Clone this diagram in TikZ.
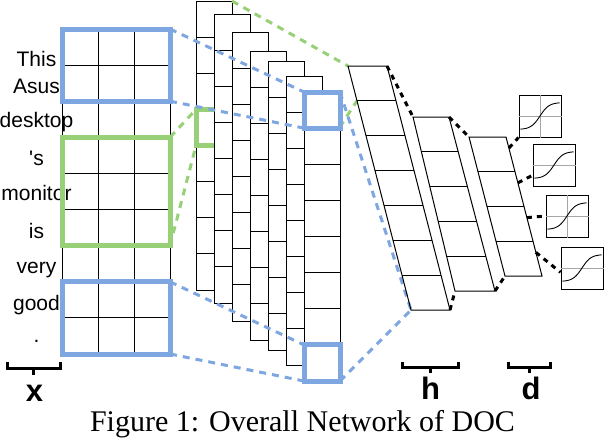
\documentclass[tikz,border=0pt]{standalone}
\usepackage{fontspec}
\setmainfont{Liberation Serif}
\newfontfamily\lsans{Liberation Sans}
\usetikzlibrary{calc}
\definecolor{cblue}{HTML}{7EA6E0}
\definecolor{cgreen}{HTML}{97D077}
\newcommand\fmcolumn[2]{%
  \draw[cell] ({196+18*#1},#2) rectangle ++(36,289);
  \foreach \j in {1,...,7} \draw[thinline] ({196+18*#1},{#2+36.125*\j}) -- ++(36,0);
}
\begin{document}
\begin{tikzpicture}[x=1pt,y=-1pt,
  thinline/.style={line width=1pt},
  cell/.style={draw, fill=white, line width=1pt},
  bluebox/.style={draw=cblue, line width=5pt},
  greenbox/.style={draw=cgreen, line width=5pt},
  bluedash/.style={draw=cblue, line width=3pt, dash pattern=on 7pt off 6pt},
  greendash/.style={draw=cgreen, line width=3pt, dash pattern=on 7pt off 6pt},
  blackdash/.style={draw=black, line width=3pt, dash pattern=on 5pt off 5pt},
  word/.style={font=\lsans\fontsize{21}{21}\selectfont, anchor=base, inner sep=0pt},
  biglabel/.style={font=\lsans\bfseries\fontsize{31}{31}\selectfont, anchor=base, inner sep=0pt},
  bracepath/.style={line width=3pt},
  sbox/.style={draw, line width=1pt, minimum size=42pt, inner sep=0pt, fill=white},
  axisline/.style={black!35, line width=0.8pt},
  sigcurve/.style={line width=0.9pt}
]
\useasboundingbox (0,0) rectangle (604,442);

% ---------- input words ----------
\node[word] (w1) at (36.5,66) {This};
\node[word] (w2) at (36.5,93) {Asus};
\node[word] (w3) at (36.5,127) {desktop};
\node[word] (w4) at (36.5,165) {'s};
\node[word] (w5) at (36.5,200) {monitor};
\node[word] (w6) at (36.5,238) {is};
\node[word] (w7) at (36.5,273) {very};
\node[word] (w8) at (36.5,310) {good};
\node[word] (w9) at (36.5,342) {.};

% ---------- input grid ----------
\foreach \i in {0,...,9} \draw[thinline] (62,{29+36.111*\i}) -- (170,{29+36.111*\i});
\foreach \x in {62,98,134,170} \draw[thinline] (\x,29) -- (\x,354);

\coordinate (ib1tr) at (170,29);   \coordinate (ib1br) at (170,101.2);
\coordinate (igtr)  at (170,137.3); \coordinate (igbr) at (170,245.7);
\coordinate (ib2tr) at (170,281.8); \coordinate (ib2br) at (170,354);
\draw[bluebox]  (62,29) rectangle (ib1br);
\draw[greenbox] (62,137.3) rectangle (igbr);
\draw[bluebox]  (62,281.8) rectangle (ib2br);

% ---------- fully connected layers (coordinates) ----------
\coordinate (f1tl) at (348,66);  \coordinate (f1tr) at (387,66);
\coordinate (f1bl) at (411,310); \coordinate (f1br) at (450,310);
\coordinate (f2tl) at (413,117); \coordinate (f2tr) at (449,117);
\coordinate (f2bl) at (455,291); \coordinate (f2br) at (495,291);
\coordinate (f3tl) at (469,137); \coordinate (f3tr) at (506,137);
\coordinate (f3bl) at (505,276); \coordinate (f3br) at (542,276);
\coordinate (f1c1) at ($(f1tl)!1/7!(f1bl)$);

% ---------- feature maps ----------
\fmcolumn{0}{1}
\coordinate (c0tr) at (232,1); \coordinate (c0br) at (232,290);
\coordinate (gstl) at (196,109.4); \coordinate (gsbl) at (196,145.5);
\draw[greenbox] (gstl) rectangle (232,145.5);
\draw[greendash] (c0br) -- (f1c1);
\fmcolumn{1}{14}
\fmcolumn{2}{32}
\fmcolumn{3}{51}
\fmcolumn{4}{61}
\fmcolumn{5}{76}
\fmcolumn{6}{92}
\coordinate (sq1tl) at (304,92);  \coordinate (sq1bl) at (304,128.1); \coordinate (sq1tr) at (340,92);
\coordinate (sq2tl) at (304,344.9); \coordinate (sq2bl) at (304,381); \coordinate (sq2br) at (340,381);
\draw[bluebox] (sq1tl) rectangle (340,128.1);
\draw[bluebox] (sq2tl) rectangle (sq2br);

% ---------- dashed mappings ----------
\draw[bluedash] (ib1tr) -- (sq1tl);
\draw[bluedash] (ib1br) -- (sq1bl);
\draw[bluedash] (ib2tr) -- (sq2tl);
\draw[bluedash] (ib2br) -- (sq2bl);
\draw[greendash] (igtr) -- (gstl);
\draw[greendash] (igbr) -- (gsbl);
\draw[greendash] (c0tr) -- (f1tl);
\draw[bluedash] (sq1tr) -- (f1bl);
\draw[bluedash] (sq2br) -- (f1bl);

% ---------- FC layers ----------
\draw[thinline] (f1tl) -- (f1tr) -- (f1br) -- (f1bl) -- cycle;
\foreach \i in {1,...,6} \draw[thinline] ($(f1tl)!\i/7!(f1bl)$) -- ($(f1tr)!\i/7!(f1br)$);
\draw[thinline] (f2tl) -- (f2tr) -- (f2br) -- (f2bl) -- cycle;
\foreach \i in {1,...,4} \draw[thinline] ($(f2tl)!\i/5!(f2bl)$) -- ($(f2tr)!\i/5!(f2br)$);
\draw[thinline] (f3tl) -- (f3tr) -- (f3br) -- (f3bl) -- cycle;
\foreach \i in {1,...,3} \draw[thinline] ($(f3tl)!\i/4!(f3bl)$) -- ($(f3tr)!\i/4!(f3br)$);

\draw[blackdash] (f1tr) -- (f2tl);
\draw[blackdash] (f2tr) -- (f3tl);
\draw[blackdash] (f1br) -- (f2bl);
\draw[blackdash] (f2br) -- (f3bl);

% ---------- sigmoid boxes ----------
\node[sbox] (s1) at (540,116) {};
\node[sbox] (s2) at (554,165) {};
\node[sbox] (s3) at (567,216) {};
\node[sbox] (s4) at (582,268) {};
\draw[axisline] (s1.north) -- (s1.south) (s1.west) -- (s1.east);
\draw[axisline] (s2.west) -- (s2.east);
\draw[axisline] (s3.north) -- (s3.south) (s3.west) -- (s3.east);
\draw[axisline] (s4.west) -- (s4.east);
\foreach \s in {s1,s2,s3,s4}
  \draw[sigcurve, shift={(\s.center)}] plot[domain=-19.5:19.5, samples=40, smooth] (\x,{-13.5*tanh(\x/9)});

\draw[blackdash] ($(f3tr)!0.08!(f3br)$) -- (s1.south west);
\draw[blackdash] ($(f3tr)!0.33!(f3br)$) -- ($(s2.north west)!0.74!(s2.south west)$);
\draw[blackdash] ($(f3tr)!0.58!(f3br)$) -- (s3.west);
\draw[blackdash] ($(f3tr)!0.83!(f3br)$) -- ($(s4.north west)!0.6!(s4.south west)$);

% ---------- brackets and labels ----------
\draw[bracepath] (7,362) -- (7,368) -- (60,368) -- (60,362);
\coordinate (bxm) at (33.5,368); \coordinate (bxt) at (33.5,375);
\draw[bracepath] (bxm) -- (bxt);
\node[biglabel] (lx) at (34.5,401) {x};

\draw[bracepath] (402,362) -- (402,367) -- (458,367) -- (458,362);
\coordinate (bhm) at (430,367); \coordinate (bht) at (430,373);
\draw[bracepath] (bhm) -- (bht);
\node[biglabel] (lh) at (430.5,399) {h};

\draw[bracepath] (508,362) -- (508,367) -- (550,367) -- (550,362);
\coordinate (bdm) at (529,367); \coordinate (bdt) at (529,373);
\draw[bracepath] (bdm) -- (bdt);
\node[biglabel] (ld) at (531,399) {d};

\node[font=\fontsize{30}{30}\selectfont, anchor=base, inner sep=0pt] (cap) at (302.5,431) {Figure 1: Overall Network of DOC};
\end{tikzpicture}
\end{document}
